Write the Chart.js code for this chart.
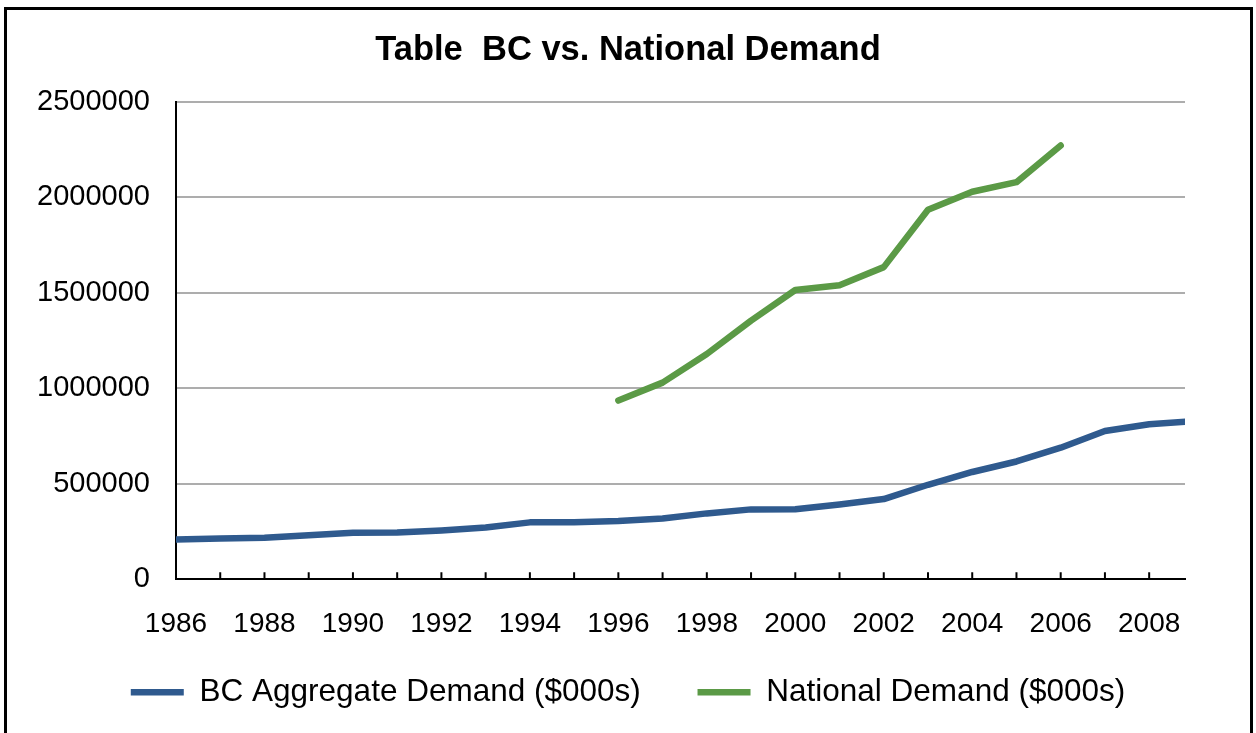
<!DOCTYPE html>
<html>
<head>
<meta charset="utf-8">
<script src="https://cdn.jsdelivr.net/npm/chart.js@4"></script>
<style>
  html, body { margin: 0; padding: 0; background: #fff; overflow: hidden; }
  #frame { position: absolute; left: 4px; top: 7px; width: 1243px; height: 800px;
           border: 3px solid #000; border-bottom: none; }
  #demandChart { position: absolute; left: 0; top: 0; }
</style>
</head>
<body>
<div id="frame"></div>
<canvas id="demandChart" width="1256" height="733"></canvas>
<script>
const years = [1986, 1987, 1988, 1989, 1990, 1991, 1992, 1993, 1994, 1995, 1996, 1997,
               1998, 1999, 2000, 2001, 2002, 2003, 2004, 2005, 2006, 2007, 2008, 2009];
const bcDemand = [208000, 213000, 217000, 230000, 243000, 245000, 256000, 271000, 298000, 298000, 305000, 318000,
                  345000, 366000, 367000, 392000, 420000, 495000, 562000, 617000, 689000, 777000, 812000, 828000];
const nationalDemand = [null, null, null, null, null, null, null, null, null, null, 936000, 1030000,
                        1180000, 1355000, 1515000, 1540000, 1635000, 1935000, 2030000, 2080000, 2272000, null, null, null];
const yTicks = [0, 500000, 1000000, 1500000, 2000000, 2500000];
const xMax = 2008.81;

const FONT = '"Liberation Sans", Arial, sans-serif';

// small tick marks pointing up into the plot, one per year
const innerTicks = {
  id: 'innerTicks',
  afterDraw(chart) {
    const x = chart.scales.x, area = chart.chartArea, ctx = chart.ctx;
    ctx.save();
    ctx.strokeStyle = '#000';
    ctx.lineWidth = 2;
    years.slice(1).forEach(yr => {
      const px = x.getPixelForValue(yr);
      if (px > area.right) return;
      ctx.beginPath();
      ctx.moveTo(px, area.bottom);
      ctx.lineTo(px, area.bottom - 7);
      ctx.stroke();
    });
    ctx.restore();
  }
};

new Chart(document.getElementById('demandChart'), {
  type: 'line',
  data: {
    datasets: [
      {
        label: 'BC Aggregate Demand ($000s)',
        data: years.map((yr, i) => ({x: yr, y: bcDemand[i]})),
        borderColor: '#2f5a8e', backgroundColor: '#2f5a8e',
        borderWidth: 6.5, borderCapStyle: 'round', borderJoinStyle: 'round',
        pointRadius: 0, tension: 0, clip: 0
      },
      {
        label: 'National Demand ($000s)',
        data: years.map((yr, i) => ({x: yr, y: nationalDemand[i]})),
        borderColor: '#5b9a46', backgroundColor: '#5b9a46',
        borderWidth: 6.5, borderCapStyle: 'round', borderJoinStyle: 'round',
        pointRadius: 0, tension: 0, spanGaps: false, clip: 0
      }
    ]
  },
  options: {
    responsive: false,
    animation: false,
    devicePixelRatio: 1,
    layout: { padding: { left: 0, right: 0, top: 0, bottom: 15 } },
    plugins: {
      tooltip: { enabled: false },
      title: {
        display: true,
        text: 'Table  BC vs. National Demand',
        color: '#000',
        font: { family: FONT, size: 34.5, weight: 'bold' },
        padding: { top: 30, bottom: 30.6 }
      },
      legend: {
        position: 'bottom',
        align: 'center',
        labels: {
          color: '#000',
          font: { family: FONT, size: 31.5 },
          usePointStyle: true,
          pointStyle: 'line',
          pointStyleWidth: 53,
          padding: 56.75
        }
      }
    },
    scales: {
      x: {
        type: 'linear',
        min: 1986,
        max: xMax,
        afterFit: s => { s.height = 40.5; },
        afterBuildTicks: s => { s.ticks = years.filter(yr => yr <= xMax).map(yr => ({value: yr})); },
        grid: { display: false, drawTicks: false },
        border: { color: '#000', width: 2 },
        ticks: {
          autoSkip: false,
          maxRotation: 0,
          // mirror keeps the labels out of the axis box clip; negative padding puts them below the axis
          mirror: true,
          padding: -61.8,
          color: '#000',
          font: { family: FONT, size: 28 },
          callback: v => (v % 2 === 0) ? String(v) : ''
        }
      },
      y: {
        min: 0,
        max: 2500000,
        afterFit: s => { s.width = 176; },
        afterBuildTicks: s => { s.ticks = yTicks.map(v => ({value: v})); },
        grid: { color: '#adadad', lineWidth: 2, drawTicks: false },
        border: { color: '#000', width: 2 },
        ticks: {
          padding: 26,
          color: '#000',
          font: { family: FONT, size: 29 },
          callback: v => String(v)
        }
      },
      // empty axis on the right, only keeps the plot clear of the right margin
      yRight: {
        position: 'right',
        afterFit: s => { s.width = 71; },
        grid: { display: false },
        border: { display: false },
        ticks: { display: false }
      }
    }
  },
  plugins: [innerTicks]
});
</script>
</body>
</html>
